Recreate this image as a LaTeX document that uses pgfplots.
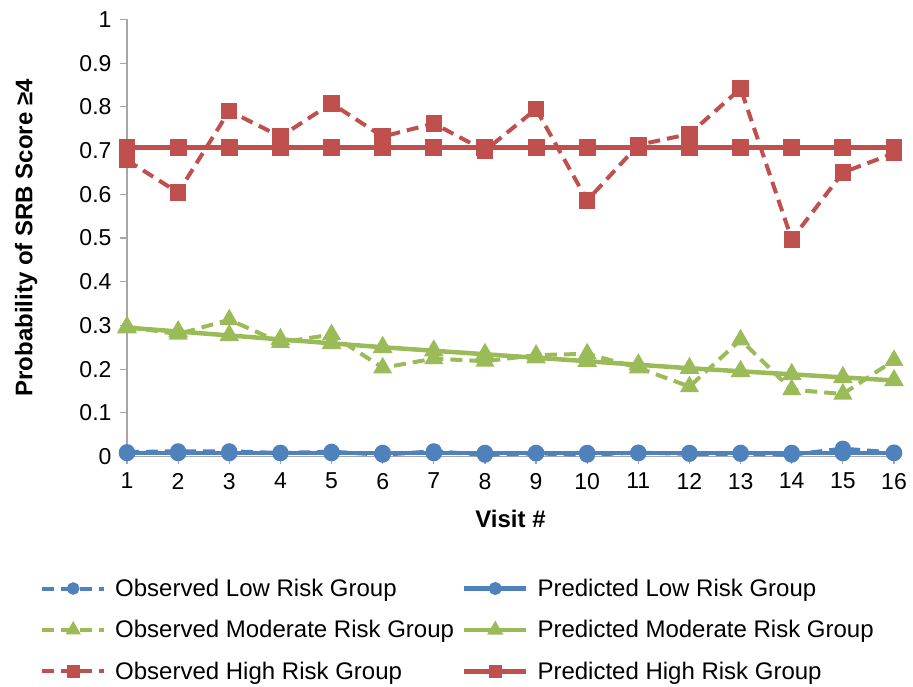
\documentclass[border=0pt]{standalone}
\usepackage{fontspec}
\setmainfont{Liberation Sans}
\usepackage{pgfplots}
\pgfplotsset{compat=1.18}
\definecolor{cblue}{HTML}{4F81BD}
\definecolor{cgreen}{HTML}{9BBB59}
\definecolor{cred}{HTML}{C0504D}
\definecolor{axgray}{HTML}{A6A6A6}
\begin{document}
\begin{tikzpicture}[x=1pt,y=1pt]
\path[use as bounding box] (0,0) rectangle (913,686);
\begin{axis}[
  at={(127pt,229.5pt)}, anchor=south west,
  scale only axis, width=767pt, height=437pt,
  xmin=1, xmax=16, ymin=0, ymax=1,
  clip=false,
  axis x line*=bottom, axis y line*=left,
  axis line style={axgray, line width=1.2pt, -},
  xtick={1,...,16},
  ytick={0,0.1,0.2,0.3,0.4,0.5,0.6,0.7,0.8,0.9,1},
  yticklabels={0,0.1,0.2,0.3,0.4,0.5,0.6,0.7,0.8,0.9,1},
  tick align=outside, major tick length=7pt,
  tick style={axgray, line width=1.2pt},
  ticklabel style={font=\fontsize{23}{27}\selectfont},
  xticklabel style={yshift=-6pt},
  yticklabel style={xshift=-5pt},
  /pgf/number format/assume math mode=true,
  xlabel={Visit \#},
  ylabel={Probability of SRB Score ≥4},
  label style={font=\bfseries\fontsize{24}{28}\selectfont},
  xlabel style={at={(axis description cs:0.5,-0.142)}, anchor=center},
  ylabel style={at={(axis description cs:-0.1315,0.5)}, anchor=center},
  legend columns=2,
  legend cell align=left,
  legend style={at={(axis description cs:-0.1134,-0.28)}, anchor=north west,
    draw=none, fill=none, inner sep=0pt,
    font=\fontsize{24}{28}\selectfont,
    row sep=22.5pt,
    nodes={inner sep=0pt},
    /tikz/every odd column/.append style={column sep=9pt},
    /tikz/every even column/.append style={column sep=8pt}},
  legend image code/.code={\draw[mark repeat=2,mark phase=2,#1,/tikz/every mark/.append style={scale=0.7}] plot coordinates {(0pt,0pt) (31pt,0pt) (62pt,0pt)};},
]
% Observed Low
\addplot[cblue, line width=4pt, dash pattern=on 12pt off 7pt, mark=*, mark size=6pt, mark options={solid}]
  coordinates {(1,0.010) (2,0.012) (3,0.012) (4,0.008) (5,0.011) (6,0.004) (7,0.012) (8,0.004)
   (9,0.007) (10,0.004) (11,0.009) (12,0.006) (13,0.006) (14,0.004) (15,0.018) (16,0.009)};
\addlegendentry{Observed Low Risk Group}
% Predicted Low
\addplot[cblue, line width=4.5pt, mark=*, mark size=6pt]
  coordinates {(1,0.008) (2,0.008) (3,0.008) (4,0.008) (5,0.008) (6,0.008) (7,0.008) (8,0.008)
   (9,0.008) (10,0.008) (11,0.008) (12,0.008) (13,0.008) (14,0.008) (15,0.008) (16,0.008)};
\addlegendentry{Predicted Low Risk Group}
% Observed Moderate
\addplot[cgreen, line width=4pt, dash pattern=on 12pt off 7pt, mark=triangle*, mark size=7pt, mark options={solid}]
  coordinates {(1,0.297) (2,0.280) (3,0.313) (4,0.261) (5,0.279) (6,0.203) (7,0.224) (8,0.218)
   (9,0.232) (10,0.235) (11,0.203) (12,0.160) (13,0.267) (14,0.153) (15,0.143) (16,0.220)};
\addlegendentry{Observed Moderate Risk Group}
% Predicted Moderate
\addplot[cgreen, line width=4.5pt, mark=triangle*, mark size=7pt]
  coordinates {(1,0.295) (2,0.286) (3,0.277) (4,0.268) (5,0.259) (6,0.250) (7,0.242) (8,0.234)
   (9,0.226) (10,0.218) (11,0.210) (12,0.202) (13,0.195) (14,0.188) (15,0.181) (16,0.174)};
\addlegendentry{Predicted Moderate Risk Group}
% Observed High
\addplot[cred, line width=4pt, dash pattern=on 12pt off 7pt, mark=square*, mark size=6.2pt, mark options={solid}]
  coordinates {(1,0.678) (2,0.604) (3,0.791) (4,0.732) (5,0.808) (6,0.732) (7,0.762) (8,0.700)
   (9,0.795) (10,0.586) (11,0.713) (12,0.738) (13,0.842) (14,0.497) (15,0.650) (16,0.694)};
\addlegendentry{Observed High Risk Group}
% Predicted High
\addplot[cred, line width=4.5pt, mark=square*, mark size=6.2pt]
  coordinates {(1,0.707) (2,0.707) (3,0.707) (4,0.707) (5,0.707) (6,0.707) (7,0.707) (8,0.707)
   (9,0.707) (10,0.707) (11,0.707) (12,0.707) (13,0.707) (14,0.707) (15,0.707) (16,0.707)};
\addlegendentry{Predicted High Risk Group}
\end{axis}
\end{tikzpicture}
\end{document}
